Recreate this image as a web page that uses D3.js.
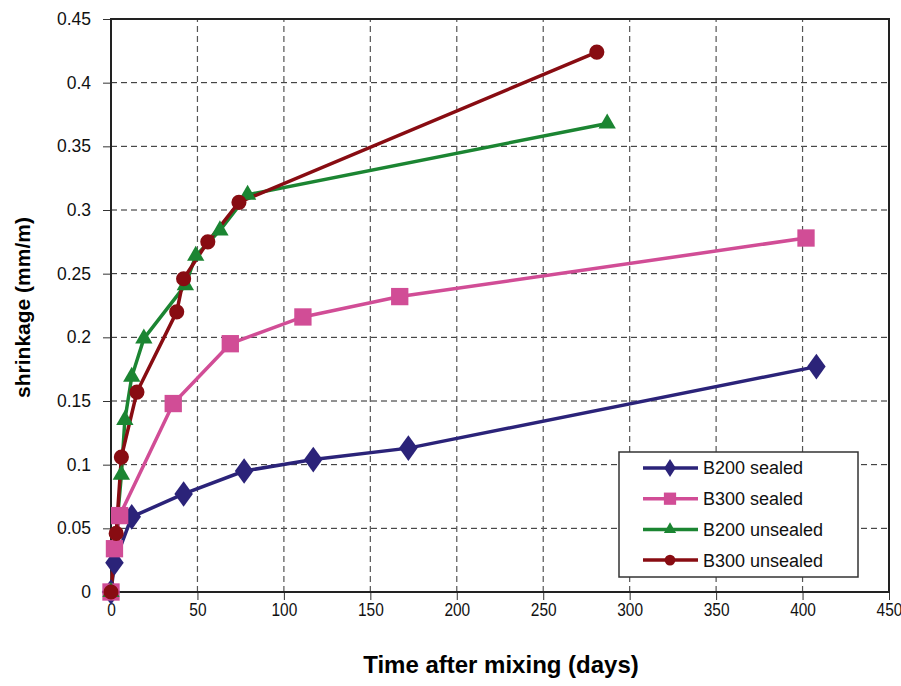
<!DOCTYPE html>
<html>
<head>
<meta charset="utf-8">
<script src="https://cdn.jsdelivr.net/npm/d3@7"></script>
<style>
  body { margin: 0; background: #fff; }
  text { font-family: "Liberation Sans", Arial, sans-serif; }
</style>
</head>
<body>
<svg width="901" height="686"></svg>
<script>
// values: [days, shrinkage mm/m]
const b200Sealed = [[0, 0], [2, 0.023], [12, 0.059], [42, 0.077], [77, 0.095], [117, 0.104], [172, 0.113], [408, 0.177]];
const b300Sealed = [[0, 0], [2, 0.034], [5, 0.060], [36, 0.148], [69, 0.195], [111, 0.216], [167, 0.232], [402, 0.278]];
const b200Unsealed = [[0, 0], [6, 0.092], [8, 0.135], [12, 0.169], [19, 0.199], [43, 0.241], [49, 0.264], [63, 0.284], [79, 0.312], [287, 0.368]];
const b300Unsealed = [[0, 0], [3, 0.046], [6, 0.106], [15, 0.157], [38, 0.220], [42, 0.246], [56, 0.275], [74, 0.306], [281, 0.424]];

const xTicks = [0, 50, 100, 150, 200, 250, 300, 350, 400, 450];
const yTicks = [0, 0.05, 0.1, 0.15, 0.2, 0.25, 0.3, 0.35, 0.4, 0.45];

const series = [
  { name: "B200 sealed", data: b200Sealed, color: "#2b2379", shape: d3.symbolDiamond, size: 190 },
  { name: "B300 sealed", data: b300Sealed, color: "#d14d96", shape: d3.symbolSquare, size: 300 },
  { name: "B200 unsealed", data: b200Unsealed, color: "#1b8532", shape: d3.symbolTriangle, size: 130 },
  { name: "B300 unsealed", data: b300Unsealed, color: "#880c12", shape: d3.symbolCircle, size: 180 }
];

const margin = { left: 111, top: 19, right: 12, bottom: 94 };
const W = 901, H = 686;
const svg = d3.select("svg");

const x = d3.scaleLinear().domain([0, 450]).range([margin.left, W - margin.right]);
const y = d3.scaleLinear().domain([0, 0.45]).range([H - margin.bottom, margin.top]);

// GRID
svg.append("g")
  .selectAll("line")
  .data(yTicks.slice(1, -1))
  .join("line")
  .attr("x1", x(0)).attr("x2", x(450))
  .attr("y1", d => y(d)).attr("y2", d => y(d))
  .attr("stroke", "#222")
  .attr("stroke-dasharray", "6,4");

svg.append("g")
  .selectAll("line")
  .data(xTicks.slice(1, -1))
  .join("line")
  .attr("y1", y(0)).attr("y2", y(0.45))
  .attr("x1", d => x(d)).attr("x2", d => x(d))
  .attr("stroke", "#555")
  .attr("stroke-width", 1.2)
  .attr("stroke-dasharray", "6,4");

// AXES
const xAxis = svg.append("g")
  .attr("transform", `translate(0,${y(0)})`)
  .call(d3.axisBottom(x).tickValues(xTicks).tickSize(8).tickPadding(3).tickFormat(d3.format("d")));
const yAxis = svg.append("g")
  .attr("transform", `translate(${x(0)},0)`)
  .call(d3.axisLeft(y).tickValues(yTicks).tickSize(8).tickPadding(12).tickFormat(d => d === 0 ? "0" : String(+d.toFixed(2))));

[xAxis, yAxis].forEach(a => {
  a.select(".domain").remove();
  a.selectAll("line").attr("stroke", "#333");
  a.selectAll("text").attr("font-size", 18).attr("fill", "#111")
    .attr("font-family", "Liberation Sans, Arial, sans-serif");
});
yAxis.selectAll("text").attr("font-size", 17.5);
// x tick labels look a bit condensed
xAxis.selectAll("text").attr("transform", "scale(0.86,1)");

// frame
svg.append("rect")
  .attr("x", x(0)).attr("y", y(0.45))
  .attr("width", x(450) - x(0)).attr("height", y(0) - y(0.45))
  .attr("fill", "none").attr("stroke", "#222").attr("stroke-width", 2);

// LINES + MARKERS
const line = d3.line().x(d => x(d[0])).y(d => y(d[1]));

series.forEach(s => {
  svg.append("path")
    .datum(s.data)
    .attr("fill", "none")
    .attr("stroke", s.color)
    .attr("stroke-width", 3.5)
    .attr("d", line);
});
series.forEach(s => {
  svg.append("g")
    .selectAll("path")
    .data(s.data)
    .join("path")
    .attr("transform", d => `translate(${x(d[0])},${y(d[1])})${s.shape === d3.symbolDiamond ? " scale(1.25,1)" : ""}`)
    .attr("d", d3.symbol(s.shape, s.size))
    .attr("fill", s.color);
});

// LEGEND
const lg = svg.append("g").attr("transform", "translate(619,452)");
lg.append("rect")
  .attr("width", 239).attr("height", 125)
  .attr("fill", "#fff").attr("stroke", "#333").attr("stroke-width", 1.5);
const item = lg.selectAll("g.item")
  .data(series)
  .join("g")
  .attr("class", "item")
  .attr("transform", (d, i) => `translate(0,${16 + i * 30.7})`);
item.append("line")
  .attr("x1", 24).attr("x2", 79)
  .attr("stroke", d => d.color).attr("stroke-width", 3.5);
item.append("path")
  .attr("transform", d => `translate(51,0)${d.shape === d3.symbolDiamond ? " scale(1.1,1)" : ""}`)
  .attr("d", d => d3.symbol(d.shape, d.size * 0.5)())
  .attr("fill", d => d.color);
item.append("text")
  .attr("x", 84).attr("dy", "0.36em")
  .attr("font-size", 18).attr("fill", "#111")
  .text(d => d.name);

// AXIS TITLES
svg.append("text")
  .attr("x", (x(0) + x(450)) / 2 + 1).attr("y", 673)
  .attr("text-anchor", "middle")
  .attr("font-size", 24).attr("font-weight", "bold")
  .text("Time after mixing (days)");
svg.append("text")
  .attr("transform", `translate(30,${(y(0) + y(0.45)) / 2 + 2}) rotate(-90)`)
  .attr("text-anchor", "middle")
  .attr("font-size", 21).attr("font-weight", "bold")
  .text("shrinkage (mm/m)");
</script>
</body>
</html>
